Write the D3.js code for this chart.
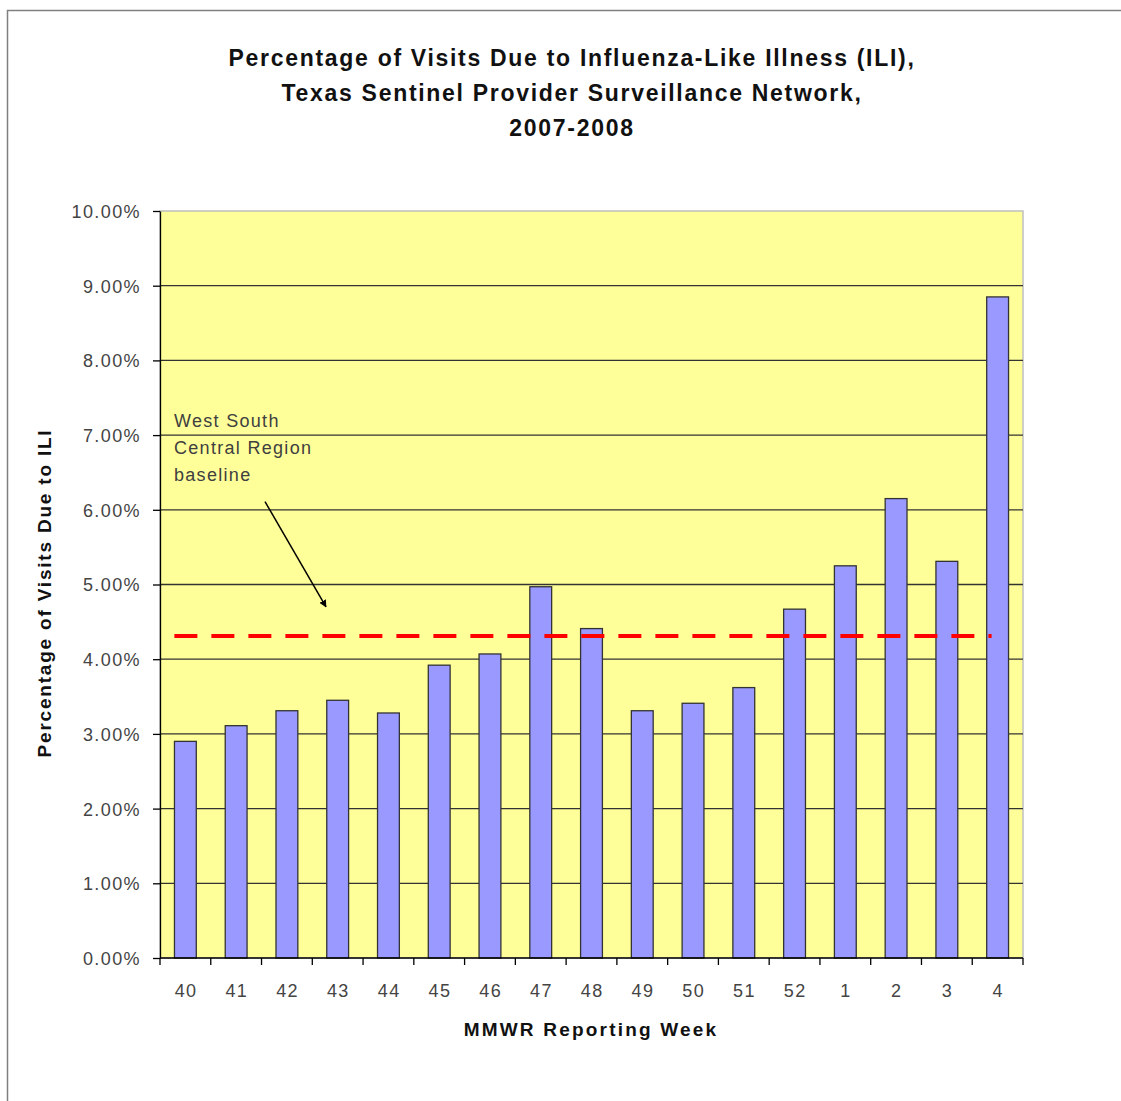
<!DOCTYPE html>
<html>
<head>
<meta charset="utf-8">
<script src="https://cdn.jsdelivr.net/npm/d3@7"></script>
<style>
  body { margin: 0; background: #fff; }
  svg { display: block; font-family: "Liberation Sans", Arial, sans-serif; }
</style>
</head>
<body>
<svg id="chart" width="1121" height="1101"></svg>
<script>
// weeks of the 2007-2008 season
const weeks = ["40", "41", "42", "43", "44", "45", "46", "47", "48", "49", "50", "51", "52", "1", "2", "3", "4"];
// percentage of visits due to ILI (fraction)
const iliPct = [0.0290, 0.0311, 0.0331, 0.0345, 0.0328, 0.0392, 0.0407, 0.0497, 0.0441, 0.0331, 0.0341, 0.0362, 0.0467, 0.0525, 0.0615, 0.0531, 0.0885];
// West South Central Region baseline
const baseline = 0.0431;
const yTicks = [0, 0.01, 0.02, 0.03, 0.04, 0.05, 0.06, 0.07, 0.08, 0.09, 0.10];
const titleLines = [
  "Percentage of Visits Due to Influenza-Like Illness (ILI),",
  "Texas Sentinel Provider Surveillance Network,",
  "2007-2008"
];
const noteLines = ["West South", "Central Region", "baseline"];

const svg = d3.select("#chart");

// outer chart frame (right and bottom edges run off the picture)
svg.append("rect")
  .attr("x", 7.5).attr("y", 10.5)
  .attr("width", 1125).attr("height", 1100)
  .attr("fill", "#fff")
  .attr("stroke", "#808080")
  .attr("stroke-width", 1.5);

const margin = { top: 211, left: 160 };
const width = 863;
const height = 747;

const g = svg.append("g").attr("transform", `translate(${margin.left},${margin.top})`);

const xScale = d3.scaleBand().domain(weeks).range([0, width]).paddingInner(0.57).paddingOuter(0.285);
const yScale = d3.scaleLinear().domain([0, 0.10]).range([height, 0]);

// plot background
g.append("rect")
  .attr("width", width).attr("height", height)
  .attr("fill", "#FFFF99")
  .attr("stroke", "#c0c0c0")
  .attr("stroke-width", 1.5);

// horizontal gridlines
g.selectAll(".grid")
  .data(yTicks.filter((d) => d > 0 && d < 0.10))
  .join("line")
  .attr("class", "grid")
  .attr("x1", 0).attr("x2", width)
  .attr("y1", (d) => yScale(d)).attr("y2", (d) => yScale(d))
  .attr("stroke", "#333")
  .attr("stroke-width", 1.3);

// bars
g.selectAll(".bar")
  .data(iliPct)
  .join("rect")
  .attr("class", "bar")
  .attr("x", (d, i) => xScale(weeks[i]))
  .attr("y", (d) => yScale(d))
  .attr("width", xScale.bandwidth())
  .attr("height", (d) => height - yScale(d))
  .attr("fill", "#9999FF")
  .attr("stroke", "#333")
  .attr("stroke-width", 1.3);

// baseline dashed line, roughly first bar to last bar
const half = xScale.bandwidth() / 2;
g.append("line")
  .attr("x1", xScale(weeks[0]) + half - 11)
  .attr("x2", xScale(weeks[weeks.length - 1]) + half - 6)
  .attr("y1", yScale(baseline)).attr("y2", yScale(baseline))
  .attr("stroke", "#FF0000")
  .attr("stroke-width", 4)
  .attr("stroke-dasharray", "23,14");

// y axis
const yAxis = g.append("g")
  .call(d3.axisLeft(yScale).tickValues(yTicks).tickFormat(d3.format(".2%")).tickSize(7).tickSizeOuter(0));
yAxis.select(".domain").attr("stroke", "#000").attr("stroke-width", 1.3);
yAxis.selectAll(".tick line").attr("stroke", "#000").attr("stroke-width", 1.3);
yAxis.selectAll(".tick text")
  .attr("x", -19)
  .attr("dy", "0.36em")
  .attr("fill", "#444")
  .style("font-size", "18px")
  .style("letter-spacing", "1.4px")
  .style("font-family", "Liberation Sans, Arial, sans-serif");

// x axis: ticks on category boundaries
const xAxis = g.append("g").attr("transform", `translate(0,${height})`);
xAxis.append("line")
  .attr("x1", 0).attr("x2", width)
  .attr("stroke", "#000").attr("stroke-width", 1.3);
const step = xScale.step();
xAxis.selectAll(".xtick")
  .data(d3.range(weeks.length + 1))
  .join("line")
  .attr("class", "xtick")
  .attr("x1", (i) => i * step).attr("x2", (i) => i * step)
  .attr("y1", 0).attr("y2", 7)
  .attr("stroke", "#000").attr("stroke-width", 1.3);
xAxis.selectAll(".xlabel")
  .data(weeks)
  .join("text")
  .attr("class", "xlabel")
  .attr("x", (d) => xScale(d) + half + 0.7)
  .attr("y", 39)
  .attr("text-anchor", "middle")
  .attr("fill", "#444")
  .style("font-size", "18px")
  .style("letter-spacing", "1.4px")
  .text((d) => d);

// title
svg.append("text")
  .attr("y", 66)
  .attr("text-anchor", "middle")
  .attr("font-weight", "bold")
  .attr("fill", "#111")
  .style("font-size", "23px")
  .style("letter-spacing", "1.7px")
  .selectAll("tspan")
  .data(titleLines)
  .join("tspan")
  .attr("x", 572)
  .attr("dy", (d, i) => (i === 0 ? 0 : 35))
  .text((d) => d);

// axis titles
svg.append("text")
  .attr("x", 591).attr("y", 1036)
  .attr("text-anchor", "middle")
  .attr("font-weight", "bold")
  .attr("fill", "#111")
  .style("font-size", "19px")
  .style("letter-spacing", "2.2px")
  .text("MMWR Reporting Week");

svg.append("text")
  .attr("transform", "translate(51,593) rotate(-90)")
  .attr("text-anchor", "middle")
  .attr("font-weight", "bold")
  .attr("fill", "#111")
  .style("font-size", "19px")
  .style("letter-spacing", "1.8px")
  .text("Percentage of Visits Due to ILI");

// baseline note and arrow
svg.append("defs").append("marker")
  .attr("id", "arrowhead")
  .attr("viewBox", "0 0 10 10")
  .attr("refX", 9).attr("refY", 5)
  .attr("markerWidth", 5).attr("markerHeight", 5)
  .attr("orient", "auto")
  .append("path")
  .attr("d", "M0,0 L10,5 L0,10 z")
  .attr("fill", "#000");

g.append("text")
  .attr("y", yScale(0.0711))
  .attr("fill", "#404040")
  .style("font-size", "18px")
  .style("letter-spacing", "1.3px")
  .selectAll("tspan")
  .data(noteLines)
  .join("tspan")
  .attr("x", 14)
  .attr("dy", (d, i) => (i === 0 ? 0 : 27))
  .text((d) => d);

g.append("line")
  .attr("x1", 105).attr("y1", yScale(0.0611))
  .attr("x2", 166).attr("y2", yScale(0.0470))
  .attr("stroke", "#000")
  .attr("stroke-width", 1.5)
  .attr("marker-end", "url(#arrowhead)");
</script>
</body>
</html>
